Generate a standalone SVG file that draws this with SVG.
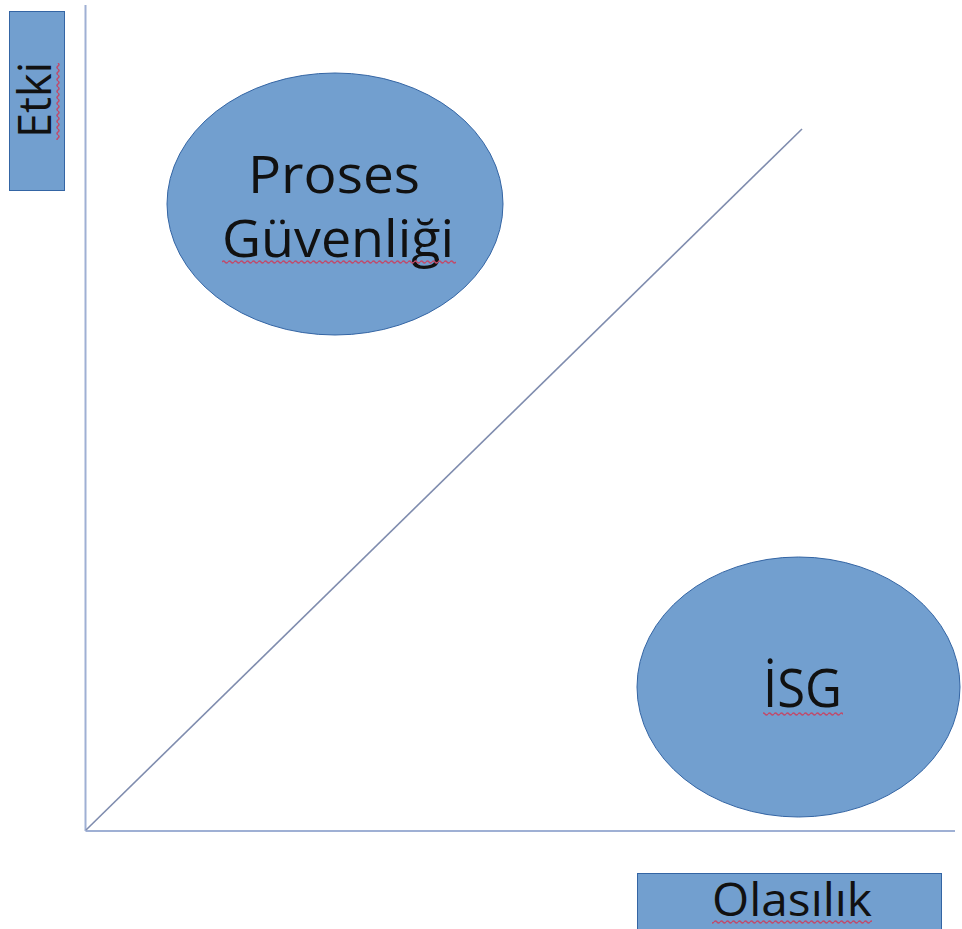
<svg xmlns="http://www.w3.org/2000/svg" width="962" height="929" viewBox="0 0 962 929">
  <style>
    .shape { fill: #729fcf; stroke: #3465a4; stroke-width: 1; }
    .label { font-family: "Open Sans", "Noto Sans", "DejaVu Sans", sans-serif; fill: #111111; text-anchor: middle; }
    .axis { stroke: #9fb0d4; stroke-width: 2; fill: none; }
    .diag { stroke: #7f8cae; stroke-width: 1.6; fill: none; }
  </style>
  <defs>
    <!-- spell-check wave used under flagged words -->
    <pattern id="wave" width="6" height="4" patternUnits="userSpaceOnUse">
      <path d="M0,2 q1.5,-2 3,0 t3,0" fill="none" stroke="#c04a6a" stroke-width="1.3"/>
    </pattern>
  </defs>
  <rect width="962" height="929" fill="#ffffff"/>

  <!-- axes and diagonal -->
  <g id="connectors">
    <line class="axis" x1="85.5" y1="5" x2="85.5" y2="831"/>
    <line class="axis" x1="85.5" y1="831" x2="955" y2="831"/>
    <line class="diag" x1="86" y1="830" x2="802" y2="129"/>
  </g>

  <!-- vertical axis label -->
  <g id="etki">
    <rect class="shape" x="9.5" y="11.5" width="55" height="179"/>
    <text class="label" font-size="46" transform="translate(51,100) rotate(-90)" textLength="76" lengthAdjust="spacingAndGlyphs">Etki</text>
    <g transform="translate(60,63) rotate(90)">
      <rect x="0" y="0" width="77" height="4" fill="url(#wave)"/>
    </g>
  </g>

  <!-- horizontal axis label -->
  <g id="olasilik">
    <rect class="shape" x="637.5" y="873.5" width="304" height="60"/>
    <text class="label" x="792" y="916" font-size="45" textLength="160" lengthAdjust="spacingAndGlyphs">Olasılık</text>
    <rect x="712" y="920" width="160" height="4" fill="url(#wave)"/>
  </g>

  <!-- upper-left region -->
  <g id="proses-guvenligi">
    <ellipse class="shape" cx="335" cy="204" rx="168" ry="131"/>
    <text class="label" x="334" y="193" font-size="51" textLength="172" lengthAdjust="spacingAndGlyphs">Proses</text>
    <text class="label" x="338" y="257" font-size="51" textLength="232" lengthAdjust="spacingAndGlyphs">Güvenliği</text>
    <rect x="222" y="260" width="234" height="4" fill="url(#wave)"/>
  </g>

  <!-- lower-right region -->
  <g id="isg">
    <ellipse class="shape" cx="798.5" cy="687" rx="161.5" ry="130"/>
    <text class="label" x="802.5" y="707" font-size="53" textLength="79" lengthAdjust="spacingAndGlyphs">İSG</text>
    <rect x="763" y="712" width="80" height="4" fill="url(#wave)"/>
  </g>
</svg>
